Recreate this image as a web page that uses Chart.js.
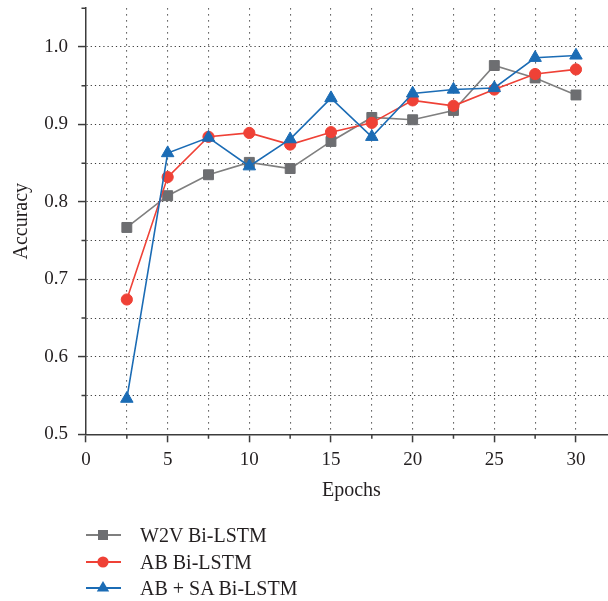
<!DOCTYPE html>
<html>
<head>
<meta charset="utf-8">
<script src="https://cdn.jsdelivr.net/npm/chart.js@4/dist/chart.umd.min.js"></script>
<style>
  html, body { margin: 0; padding: 0; width: 608px; height: 601px; overflow: hidden; background: #fff; }
  #wrap { position: absolute; left: 0; top: 0; width: 625px; height: 510px; }
  #legend { position: absolute; left: 0; top: 0; width: 608px; height: 601px; pointer-events: none;
            font-family: "Liberation Serif", "DejaVu Serif", serif; font-size: 20px; color: #231f20; }
  .item { position: absolute; left: 86px; height: 24px; display: flex; align-items: center; white-space: nowrap; }
  .item svg { display: block; }
  .item span { position: absolute; left: 54px; top: 50%; transform: translateY(-50%); }
</style>
</head>
<body>
<div id="wrap"><canvas id="c" width="625" height="510"></canvas></div>
<div id="legend"></div>
<script>
// ---- data ----
const epochs = [2.5, 5, 7.5, 10, 12.5, 15, 17.5, 20, 22.5, 25, 27.5, 30];
const seriesNames = ["W2V Bi-LSTM", "AB Bi-LSTM", "AB + SA Bi-LSTM"];
const w2v   = [0.767, 0.808, 0.835, 0.851, 0.843, 0.878, 0.909, 0.906, 0.918, 0.976, 0.960, 0.938];
const ab    = [0.674, 0.832, 0.884, 0.889, 0.874, 0.890, 0.902, 0.931, 0.924, 0.945, 0.965, 0.971];
const absa  = [0.546, 0.863, 0.883, 0.846, 0.881, 0.934, 0.884, 0.940, 0.945, 0.947, 0.986, 0.989];
const xTickLabels = [0, 5, 10, 15, 20, 25, 30];
const yTickLabels = [0.5, 0.6, 0.7, 0.8, 0.9, 1.0];

const FONT = '"Liberation Serif", "DejaVu Serif", serif';
const TXT = '#231f20';
const AXIS = '#3c3c3c';
const GRID = '#3a3a3a';

const styles = [
  { line: '#7f7f7f', fill: '#6d6e71', shape: 'rect', r: 7 },
  { line: '#ef4136', fill: '#ef4136', shape: 'circle', r: 5.6 },
  { line: '#1b6cb5', fill: '#1b6cb5', shape: 'triangle', r: 7.2 }
];
const values = [w2v, ab, absa];

const isXMajor = v => xTickLabels.some(t => Math.abs(t - v) < 1e-6);
const isYMajor = v => yTickLabels.some(t => Math.abs(t - v) < 1e-6);

const datasets = values.map((vals, i) => ({
  label: seriesNames[i],
  data: epochs.map((e, j) => ({ x: e, y: vals[j] })),
  borderColor: styles[i].line,
  backgroundColor: styles[i].fill,
  pointBackgroundColor: styles[i].fill,
  pointBorderColor: styles[i].fill,
  pointBorderWidth: 1,
  pointStyle: styles[i].shape,
  pointRadius: styles[i].r,
  borderWidth: 1.6,
  tension: 0,
  order: 2 - i
}));

const minorTicks = {
  id: 'minorTicks',
  afterDraw(chart) {
    const ctx = chart.ctx;
    const xs = chart.scales.x, ys = chart.scales.y;
    ctx.save();
    ctx.strokeStyle = AXIS;
    ctx.lineWidth = 1.5;
    ctx.beginPath();
    xs.ticks.forEach(t => {
      if (!isXMajor(t.value)) {
        const px = xs.getPixelForValue(t.value);
        ctx.moveTo(px, ys.bottom); ctx.lineTo(px, ys.bottom + 4.5);
      }
    });
    ys.ticks.forEach(t => {
      if (!isYMajor(t.value)) {
        const py = ys.getPixelForValue(t.value);
        ctx.moveTo(xs.left - 4.5, py); ctx.lineTo(xs.left, py);
      }
    });
    ctx.stroke();
    ctx.restore();
  }
};

new Chart(document.getElementById('c'), {
  type: 'line',
  data: { datasets },
  plugins: [minorTicks],
  options: {
    responsive: false,
    animation: false,
    layout: { padding: { top: 5.8, right: 3, left: 0, bottom: 0 } },
    plugins: { legend: { display: false }, tooltip: { enabled: false } },
    scales: {
      x: {
        type: 'linear',
        min: 0, max: 32.5,
        afterFit: s => { s.height = 75.7; s.paddingLeft = 0; s.paddingRight = 0; },
        border: { display: true, color: AXIS, width: 1.5, dash: [1.2, 4.8] },
        grid: {
          color: c => (c.tick && c.tick.value > 0.01) ? GRID : 'rgba(0,0,0,0)',
          lineWidth: 1.1,
          tickLength: 8,
          tickWidth: 1.5,
          tickColor: c => (c.tick && isXMajor(c.tick.value)) ? AXIS : 'rgba(0,0,0,0)',
          tickBorderDash: []
        },
        ticks: {
          stepSize: 2.5, maxTicksLimit: 100, autoSkip: false, maxRotation: 0, minRotation: 0,
          padding: 6, color: TXT, font: { family: FONT, size: 19 },
          callback: v => isXMajor(v) ? String(Math.round(v)) : ''
        },
        title: { display: true, text: 'Epochs', color: TXT, font: { family: FONT, size: 20 }, padding: { top: 0, bottom: 7 } }
      },
      y: {
        type: 'linear',
        min: 0.5, max: 1.05,
        afterFit: s => { s.width = 86; s.paddingTop = 0; s.paddingBottom = 0; },
        border: { display: true, color: AXIS, width: 1.5, dash: [1.2, 3] },
        grid: {
          color: c => (c.tick && c.tick.value > 0.501 && c.tick.value < 1.04) ? GRID : 'rgba(0,0,0,0)',
          lineWidth: 1.1,
          tickLength: 8,
          tickWidth: 1.5,
          tickColor: c => (c.tick && isYMajor(c.tick.value)) ? AXIS : 'rgba(0,0,0,0)',
          tickBorderDash: []
        },
        ticks: {
          stepSize: 0.05, maxTicksLimit: 100, autoSkip: false,
          padding: 10, color: TXT, font: { family: FONT, size: 19 },
          callback: v => isYMajor(v) ? v.toFixed(1) : ''
        },
        title: { display: true, text: 'Accuracy', color: TXT, font: { family: FONT, size: 20 }, padding: { top: 10, bottom: 0 } }
      }
    }
  }
});

// ---- HTML legend ----
const legendTops = [535, 561.5, 587.5];
const leg = document.getElementById('legend');
seriesNames.forEach((name, i) => {
  const st = styles[i];
  let marker = '';
  if (st.shape === 'rect') marker = '<rect x="12" y="7" width="10" height="10" fill="' + st.fill + '"/>';
  else if (st.shape === 'circle') marker = '<circle cx="17" cy="12" r="5.6" fill="' + st.fill + '"/>';
  else marker = '<polygon points="17,5 23.2,15.6 10.8,15.6" fill="' + st.fill + '"/>';
  const div = document.createElement('div');
  div.className = 'item';
  div.style.top = (legendTops[i] - 12) + 'px';
  div.innerHTML = '<svg width="36" height="24"><line x1="0" y1="12" x2="35" y2="12" stroke="' + st.line + '" stroke-width="1.8"/>' + marker + '</svg><span>' + name + '</span>';
  leg.appendChild(div);
});
</script>
</body>
</html>
